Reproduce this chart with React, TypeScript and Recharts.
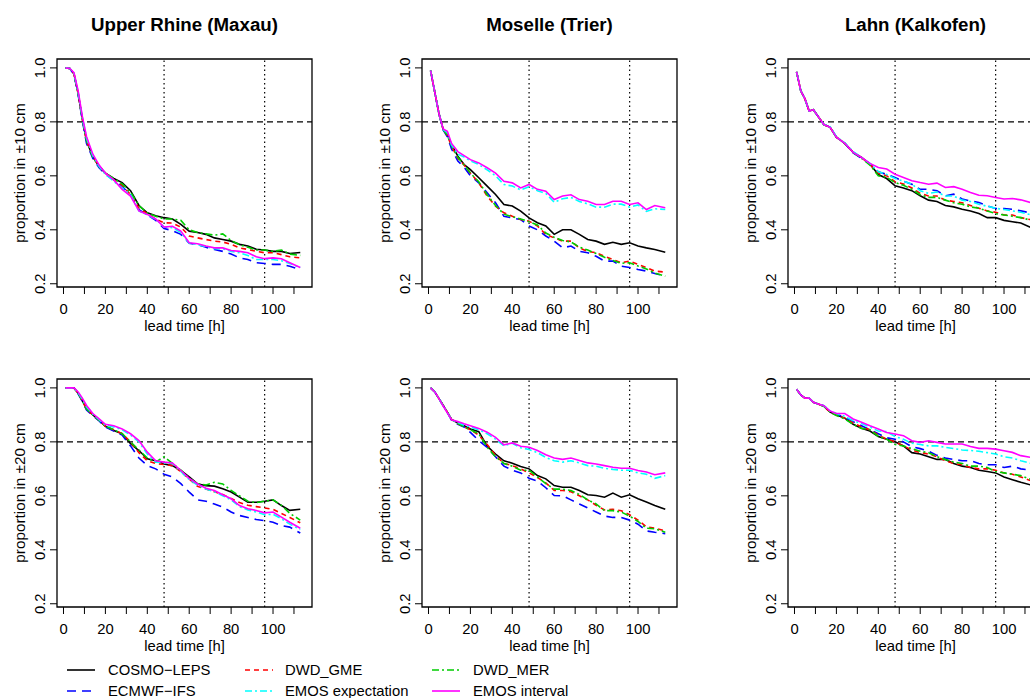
import { LineChart, Line, XAxis, YAxis, ReferenceLine, ReferenceArea } from 'recharts';

const LEAD_TIMES = [1, 3, 5, 7, 9, 11, 14, 17, 20, 24, 28, 32, 36, 40, 44, 48, 52, 56, 60, 64, 68, 72, 76, 80, 84, 88, 92, 96, 100, 104, 108, 113];

// Upper Rhine (Maxau), +-10 cm
const rhine10Cosmo = [1.0, 0.998, 0.978, 0.905, 0.81, 0.73, 0.67, 0.635, 0.61, 0.59, 0.575, 0.545, 0.49, 0.463, 0.452, 0.445, 0.44, 0.42, 0.395, 0.39, 0.383, 0.37, 0.364, 0.358, 0.346, 0.34, 0.328, 0.325, 0.32, 0.32, 0.312, 0.316];
const rhine10Ecmwf = [1.0, 0.998, 0.975, 0.9, 0.805, 0.72, 0.665, 0.63, 0.605, 0.585, 0.56, 0.53, 0.475, 0.455, 0.435, 0.405, 0.397, 0.383, 0.35, 0.345, 0.335, 0.327, 0.32, 0.31, 0.296, 0.29, 0.278, 0.275, 0.272, 0.272, 0.265, 0.253];
const rhine10Gme = [1.0, 0.998, 0.978, 0.905, 0.81, 0.73, 0.67, 0.635, 0.61, 0.585, 0.565, 0.53, 0.48, 0.46, 0.44, 0.426, 0.425, 0.41, 0.377, 0.37, 0.364, 0.358, 0.355, 0.346, 0.333, 0.327, 0.32, 0.315, 0.315, 0.308, 0.3, 0.296];
const rhine10Mer = [1.0, 0.998, 0.978, 0.905, 0.81, 0.73, 0.67, 0.635, 0.61, 0.59, 0.57, 0.54, 0.49, 0.462, 0.45, 0.44, 0.44, 0.435, 0.4, 0.39, 0.385, 0.38, 0.385, 0.36, 0.345, 0.335, 0.325, 0.325, 0.32, 0.325, 0.31, 0.305];
const rhine10EmosExp = [1.0, 0.998, 0.98, 0.91, 0.815, 0.74, 0.675, 0.635, 0.605, 0.58, 0.555, 0.53, 0.47, 0.455, 0.44, 0.41, 0.408, 0.39, 0.35, 0.345, 0.338, 0.33, 0.33, 0.32, 0.315, 0.305, 0.29, 0.29, 0.29, 0.285, 0.275, 0.26];
const rhine10EmosInt = [1.0, 0.998, 0.982, 0.915, 0.82, 0.745, 0.68, 0.64, 0.61, 0.585, 0.55, 0.525, 0.47, 0.457, 0.44, 0.41, 0.413, 0.395, 0.352, 0.348, 0.34, 0.333, 0.333, 0.323, 0.32, 0.315, 0.3, 0.293, 0.296, 0.293, 0.278, 0.26];

// Moselle (Trier), +-10 cm
const moselle10Cosmo = [0.99, 0.91, 0.83, 0.772, 0.752, 0.716, 0.673, 0.642, 0.623, 0.593, 0.562, 0.531, 0.494, 0.488, 0.469, 0.444, 0.426, 0.414, 0.383, 0.4, 0.4, 0.383, 0.364, 0.358, 0.346, 0.354, 0.346, 0.352, 0.34, 0.333, 0.327, 0.317];
const moselle10Ecmwf = [0.99, 0.91, 0.83, 0.77, 0.745, 0.7, 0.655, 0.632, 0.6, 0.574, 0.537, 0.5, 0.45, 0.444, 0.438, 0.414, 0.4, 0.377, 0.358, 0.333, 0.34, 0.32, 0.315, 0.302, 0.284, 0.284, 0.265, 0.26, 0.253, 0.247, 0.238, 0.228];
const moselle10Gme = [0.99, 0.91, 0.83, 0.772, 0.75, 0.71, 0.665, 0.64, 0.61, 0.574, 0.525, 0.488, 0.463, 0.45, 0.438, 0.432, 0.414, 0.383, 0.37, 0.358, 0.358, 0.333, 0.32, 0.315, 0.302, 0.29, 0.278, 0.284, 0.272, 0.26, 0.247, 0.243];
const moselle10Mer = [0.99, 0.91, 0.83, 0.772, 0.75, 0.712, 0.668, 0.64, 0.61, 0.578, 0.53, 0.49, 0.458, 0.448, 0.44, 0.43, 0.418, 0.388, 0.372, 0.36, 0.355, 0.336, 0.325, 0.312, 0.298, 0.286, 0.276, 0.278, 0.266, 0.255, 0.24, 0.228];
const moselle10EmosExp = [0.99, 0.91, 0.83, 0.772, 0.76, 0.715, 0.68, 0.67, 0.655, 0.642, 0.622, 0.6, 0.568, 0.562, 0.548, 0.56, 0.545, 0.535, 0.502, 0.515, 0.52, 0.505, 0.496, 0.484, 0.484, 0.495, 0.495, 0.484, 0.492, 0.468, 0.478, 0.475];
const moselle10EmosInt = [0.99, 0.91, 0.83, 0.774, 0.765, 0.72, 0.69, 0.675, 0.66, 0.648, 0.63, 0.61, 0.58, 0.574, 0.555, 0.568, 0.55, 0.543, 0.512, 0.525, 0.53, 0.512, 0.506, 0.494, 0.494, 0.506, 0.506, 0.494, 0.5, 0.475, 0.49, 0.482];

// Lahn (Kalkofen), +-10 cm
const lahn10Cosmo = [0.985, 0.915, 0.885, 0.84, 0.845, 0.823, 0.79, 0.78, 0.743, 0.72, 0.687, 0.668, 0.644, 0.605, 0.59, 0.563, 0.555, 0.545, 0.526, 0.51, 0.505, 0.49, 0.485, 0.476, 0.47, 0.46, 0.445, 0.445, 0.435, 0.43, 0.425, 0.408];
const lahn10Ecmwf = [0.985, 0.915, 0.885, 0.84, 0.845, 0.823, 0.79, 0.78, 0.743, 0.72, 0.685, 0.665, 0.645, 0.615, 0.605, 0.594, 0.58, 0.569, 0.55, 0.55, 0.545, 0.526, 0.532, 0.514, 0.507, 0.501, 0.489, 0.479, 0.479, 0.476, 0.47, 0.462];
const lahn10Gme = [0.985, 0.915, 0.885, 0.84, 0.845, 0.823, 0.79, 0.78, 0.743, 0.72, 0.687, 0.668, 0.642, 0.61, 0.6, 0.578, 0.57, 0.555, 0.535, 0.525, 0.525, 0.51, 0.505, 0.5, 0.49, 0.48, 0.47, 0.465, 0.455, 0.455, 0.445, 0.437];
const lahn10Mer = [0.985, 0.915, 0.885, 0.84, 0.845, 0.823, 0.79, 0.78, 0.743, 0.72, 0.687, 0.665, 0.64, 0.6, 0.595, 0.575, 0.565, 0.55, 0.53, 0.52, 0.52, 0.51, 0.5, 0.495, 0.485, 0.48, 0.47, 0.46, 0.455, 0.45, 0.445, 0.435];
const lahn10EmosExp = [0.985, 0.915, 0.885, 0.84, 0.845, 0.823, 0.79, 0.782, 0.745, 0.722, 0.69, 0.668, 0.646, 0.615, 0.605, 0.59, 0.58, 0.57, 0.545, 0.535, 0.54, 0.525, 0.525, 0.51, 0.505, 0.495, 0.487, 0.48, 0.475, 0.47, 0.465, 0.455];
const lahn10EmosInt = [0.985, 0.915, 0.885, 0.84, 0.845, 0.823, 0.79, 0.78, 0.743, 0.72, 0.687, 0.668, 0.646, 0.631, 0.625, 0.606, 0.594, 0.582, 0.575, 0.569, 0.573, 0.557, 0.56, 0.55, 0.538, 0.528, 0.526, 0.52, 0.514, 0.516, 0.511, 0.5];

// Upper Rhine (Maxau), +-20 cm
const rhine20Cosmo = [1.0, 1.0, 1.0, 0.98, 0.953, 0.922, 0.9, 0.88, 0.858, 0.842, 0.83, 0.793, 0.768, 0.737, 0.73, 0.718, 0.712, 0.694, 0.67, 0.644, 0.638, 0.636, 0.626, 0.614, 0.595, 0.576, 0.576, 0.58, 0.585, 0.564, 0.546, 0.55];
const rhine20Ecmwf = [1.0, 1.0, 1.0, 0.978, 0.95, 0.918, 0.897, 0.878, 0.855, 0.84, 0.825, 0.785, 0.74, 0.712, 0.7, 0.68, 0.67, 0.645, 0.614, 0.585, 0.58, 0.57, 0.558, 0.54, 0.527, 0.52, 0.512, 0.508, 0.502, 0.49, 0.484, 0.462];
const rhine20Gme = [1.0, 1.0, 1.0, 0.98, 0.953, 0.922, 0.9, 0.88, 0.858, 0.845, 0.83, 0.8, 0.76, 0.73, 0.72, 0.716, 0.712, 0.69, 0.662, 0.635, 0.625, 0.615, 0.605, 0.59, 0.575, 0.565, 0.56, 0.555, 0.55, 0.535, 0.52, 0.5];
const rhine20Mer = [1.0, 1.0, 1.0, 0.98, 0.953, 0.922, 0.9, 0.88, 0.858, 0.845, 0.83, 0.8, 0.77, 0.74, 0.725, 0.745, 0.72, 0.695, 0.665, 0.645, 0.64, 0.65, 0.644, 0.62, 0.6, 0.58, 0.575, 0.58, 0.585, 0.565, 0.535, 0.51];
const rhine20EmosExp = [1.0, 1.0, 1.0, 0.982, 0.958, 0.93, 0.903, 0.882, 0.862, 0.855, 0.845, 0.825, 0.8, 0.755, 0.725, 0.722, 0.72, 0.69, 0.66, 0.64, 0.625, 0.615, 0.6, 0.585, 0.56, 0.548, 0.54, 0.53, 0.532, 0.515, 0.495, 0.475];
const rhine20EmosInt = [1.0, 1.0, 1.0, 0.985, 0.962, 0.935, 0.905, 0.885, 0.865, 0.86, 0.848, 0.83, 0.805, 0.762, 0.73, 0.725, 0.722, 0.694, 0.665, 0.644, 0.628, 0.62, 0.604, 0.589, 0.564, 0.552, 0.546, 0.537, 0.54, 0.521, 0.502, 0.48];

// Moselle (Trier), +-20 cm
const moselle20Cosmo = [1.0, 0.985, 0.96, 0.935, 0.91, 0.883, 0.87, 0.86, 0.848, 0.838, 0.784, 0.755, 0.73, 0.721, 0.709, 0.7, 0.675, 0.663, 0.638, 0.632, 0.632, 0.62, 0.604, 0.601, 0.595, 0.61, 0.595, 0.604, 0.589, 0.577, 0.564, 0.55];
const moselle20Ecmwf = [1.0, 0.985, 0.96, 0.935, 0.91, 0.88, 0.865, 0.855, 0.835, 0.805, 0.78, 0.745, 0.71, 0.695, 0.685, 0.665, 0.655, 0.63, 0.601, 0.6, 0.585, 0.57, 0.555, 0.54, 0.525, 0.52, 0.52, 0.51, 0.495, 0.47, 0.465, 0.46];
const moselle20Gme = [1.0, 0.985, 0.96, 0.935, 0.91, 0.883, 0.868, 0.855, 0.845, 0.825, 0.79, 0.75, 0.72, 0.712, 0.7, 0.685, 0.668, 0.648, 0.62, 0.62, 0.615, 0.6, 0.585, 0.565, 0.548, 0.55, 0.545, 0.53, 0.51, 0.485, 0.48, 0.47];
const moselle20Mer = [1.0, 0.985, 0.96, 0.935, 0.91, 0.883, 0.868, 0.855, 0.845, 0.83, 0.78, 0.745, 0.72, 0.71, 0.695, 0.695, 0.67, 0.645, 0.625, 0.625, 0.62, 0.605, 0.585, 0.57, 0.545, 0.545, 0.54, 0.525, 0.505, 0.48, 0.478, 0.465];
const moselle20EmosExp = [1.0, 0.985, 0.96, 0.933, 0.908, 0.882, 0.872, 0.862, 0.855, 0.845, 0.83, 0.81, 0.785, 0.795, 0.778, 0.772, 0.76, 0.742, 0.73, 0.725, 0.73, 0.722, 0.712, 0.71, 0.702, 0.698, 0.695, 0.695, 0.685, 0.68, 0.665, 0.675];
const moselle20EmosInt = [1.0, 0.985, 0.96, 0.933, 0.908, 0.882, 0.875, 0.867, 0.86, 0.85, 0.836, 0.817, 0.789, 0.796, 0.784, 0.78, 0.768, 0.752, 0.74, 0.735, 0.74, 0.731, 0.722, 0.718, 0.712, 0.706, 0.702, 0.702, 0.694, 0.688, 0.678, 0.685];

// Lahn (Kalkofen), +-20 cm
const lahn20Cosmo = [0.995, 0.974, 0.962, 0.962, 0.947, 0.941, 0.932, 0.91, 0.9, 0.888, 0.865, 0.85, 0.84, 0.82, 0.81, 0.8, 0.785, 0.76, 0.755, 0.745, 0.735, 0.735, 0.72, 0.71, 0.705, 0.695, 0.69, 0.685, 0.67, 0.66, 0.65, 0.64];
const lahn20Ecmwf = [0.995, 0.974, 0.962, 0.962, 0.947, 0.941, 0.934, 0.912, 0.903, 0.891, 0.875, 0.86, 0.845, 0.83, 0.815, 0.81, 0.8, 0.782, 0.775, 0.765, 0.75, 0.74, 0.735, 0.73, 0.73, 0.72, 0.715, 0.715, 0.705, 0.71, 0.7, 0.695];
const lahn20Gme = [0.995, 0.974, 0.962, 0.962, 0.947, 0.941, 0.932, 0.91, 0.9, 0.888, 0.87, 0.855, 0.845, 0.825, 0.81, 0.8, 0.785, 0.77, 0.76, 0.755, 0.745, 0.73, 0.72, 0.715, 0.705, 0.7, 0.7, 0.695, 0.685, 0.68, 0.67, 0.655];
const lahn20Mer = [0.995, 0.974, 0.962, 0.962, 0.947, 0.941, 0.932, 0.91, 0.898, 0.885, 0.865, 0.85, 0.845, 0.82, 0.81, 0.79, 0.785, 0.775, 0.765, 0.76, 0.745, 0.735, 0.725, 0.72, 0.71, 0.71, 0.705, 0.69, 0.685, 0.68, 0.675, 0.66];
const lahn20EmosExp = [0.995, 0.974, 0.962, 0.962, 0.947, 0.941, 0.934, 0.915, 0.905, 0.895, 0.878, 0.868, 0.855, 0.84, 0.838, 0.82, 0.81, 0.795, 0.79, 0.785, 0.785, 0.78, 0.775, 0.77, 0.768, 0.765, 0.76, 0.755, 0.745, 0.74, 0.73, 0.72];
const lahn20EmosInt = [0.995, 0.974, 0.962, 0.962, 0.947, 0.941, 0.934, 0.914, 0.905, 0.905, 0.885, 0.873, 0.86, 0.848, 0.835, 0.829, 0.823, 0.804, 0.798, 0.804, 0.798, 0.792, 0.792, 0.792, 0.783, 0.776, 0.776, 0.773, 0.767, 0.761, 0.749, 0.742];

const Y_TICKS = [0.2, 0.4, 0.6, 0.8, 1.0];
const X_TICKS = [0, 10, 20, 30, 40, 50, 60, 70, 80, 90, 100, 110];

const SERIES = [
  { key: 'cosmo', name: 'COSMO\u2212LEPS', color: '#000000', dash: undefined },
  { key: 'ecmwf', name: 'ECMWF\u2212IFS', color: '#0000FF', dash: '9 6' },
  { key: 'gme', name: 'DWD_GME', color: '#FF0000', dash: '5 4' },
  { key: 'mer', name: 'DWD_MER', color: '#00CD00', dash: '7 3 2 3' },
  { key: 'emosExp', name: 'EMOS expectation', color: '#00FFFF', dash: '7 3 2 3' },
  { key: 'emosInt', name: 'EMOS interval', color: '#FF00FF', dash: undefined },
];
// R legend fills column by column
const LEGEND_ORDER = ['cosmo', 'ecmwf', 'gme', 'emosExp', 'mer', 'emosInt'];

const PANELS = [
  { title: 'Upper Rhine (Maxau)', band: 10, row: 0, col: 0, v: { cosmo: rhine10Cosmo, ecmwf: rhine10Ecmwf, gme: rhine10Gme, mer: rhine10Mer, emosExp: rhine10EmosExp, emosInt: rhine10EmosInt } },
  { title: 'Moselle (Trier)', band: 10, row: 0, col: 1, v: { cosmo: moselle10Cosmo, ecmwf: moselle10Ecmwf, gme: moselle10Gme, mer: moselle10Mer, emosExp: moselle10EmosExp, emosInt: moselle10EmosInt } },
  { title: 'Lahn (Kalkofen)', band: 10, row: 0, col: 2, v: { cosmo: lahn10Cosmo, ecmwf: lahn10Ecmwf, gme: lahn10Gme, mer: lahn10Mer, emosExp: lahn10EmosExp, emosInt: lahn10EmosInt } },
  { title: '', band: 20, row: 1, col: 0, v: { cosmo: rhine20Cosmo, ecmwf: rhine20Ecmwf, gme: rhine20Gme, mer: rhine20Mer, emosExp: rhine20EmosExp, emosInt: rhine20EmosInt } },
  { title: '', band: 20, row: 1, col: 1, v: { cosmo: moselle20Cosmo, ecmwf: moselle20Ecmwf, gme: moselle20Gme, mer: moselle20Mer, emosExp: moselle20EmosExp, emosInt: moselle20EmosInt } },
  { title: '', band: 20, row: 1, col: 2, v: { cosmo: lahn20Cosmo, ecmwf: lahn20Ecmwf, gme: lahn20Gme, mer: lahn20Mer, emosExp: lahn20EmosExp, emosInt: lahn20EmosInt } },
];

const FONT = '"Liberation Sans", Arial, Helvetica, sans-serif';
const FS = 14.8;
const X_DOMAIN: [number, number] = [-3.1, 118.6];
const Y_DOMAIN: [number, number] = [0.188, 1.033];
const Y_AXIS_W = 57;
const BOX_W = 255;
const BOX_TOP = 59;
const BOX_H = 228;
const X_AXIS_H = 50;
const CHART_W = Y_AXIS_W + BOX_W + 10;
const CHART_H = BOX_TOP + BOX_H + X_AXIS_H;
const COL_LEFT = [0, 365, 731];
const ROW_TOP = [0, 320];

const YTick = (props: any) => {
  const { x, y, payload } = props;
  return (
    <text x={x} y={y} transform={`rotate(-90 ${x} ${y})`} textAnchor="middle" fontSize={FS} fill="#000" fontFamily={FONT}>
      {Number(payload.value).toFixed(1)}
    </text>
  );
};

function Panel({ panel }: { panel: any }) {
  const data = LEAD_TIMES.map((t, i) => {
    const row: any = { t };
    SERIES.forEach((s) => { row[s.key] = panel.v[s.key][i]; });
    return row;
  });
  const yLabel = `proportion in \u00B1${panel.band} cm`;

  return (
    <div style={{ position: 'absolute', left: COL_LEFT[panel.col], top: ROW_TOP[panel.row], width: CHART_W, height: CHART_H }}>
      {panel.title && (
        <div style={{ position: 'absolute', left: Y_AXIS_W, width: BOX_W, top: 14, lineHeight: '22px', textAlign: 'center', fontWeight: 'bold', fontSize: 18.7, fontFamily: FONT }}>
          {panel.title}
        </div>
      )}
      <LineChart width={CHART_W} height={CHART_H} data={data} margin={{ top: BOX_TOP, right: 10, bottom: 0, left: 0 }}>
        <XAxis
          type="number"
          dataKey="t"
          domain={X_DOMAIN}
          allowDataOverflow
          ticks={X_TICKS}
          interval={0}
          height={X_AXIS_H}
          axisLine={false}
          tickSize={7}
          tickMargin={9}
          tickLine={{ stroke: '#000' }}
          tick={{ fill: '#000', fontSize: FS, fontFamily: FONT }}
          tickFormatter={(v: number) => (v % 20 === 0 ? String(v) : '')}
          label={(p: any) => (
            <text x={p.viewBox.x + p.viewBox.width / 2} y={p.viewBox.y + 39} textAnchor="middle" dominantBaseline="central" fontSize={FS} fill="#000" fontFamily={FONT}>
              lead time [h]
            </text>
          )}
        />
        <YAxis
          type="number"
          domain={Y_DOMAIN}
          allowDataOverflow
          ticks={Y_TICKS}
          interval={0}
          width={Y_AXIS_W}
          axisLine={false}
          tickSize={7}
          tickMargin={5}
          tickLine={{ stroke: '#000' }}
          tick={<YTick />}
          label={(p: any) => {
            const cx = p.viewBox.x + 19;
            const cy = p.viewBox.y + p.viewBox.height / 2;
            return (
              <text x={cx} y={cy} transform={`rotate(-90 ${cx} ${cy})`} textAnchor="middle" dominantBaseline="central" fontSize={15.3} fill="#000" fontFamily={FONT}>
                {yLabel}
              </text>
            );
          }}
        />
        <ReferenceLine y={0.8} stroke="#000" strokeDasharray="6 4" strokeWidth={1.2} />
        <ReferenceLine x={48} stroke="#000" strokeDasharray="1.5 3" strokeWidth={1.2} />
        <ReferenceLine x={96} stroke="#000" strokeDasharray="1.5 3" strokeWidth={1.2} />
        {SERIES.map((s) => (
          <Line
            key={s.key}
            type="linear"
            dataKey={s.key}
            name={s.name}
            stroke={s.color}
            strokeDasharray={s.dash}
            strokeWidth={1.6}
            dot={false}
            isAnimationActive={false}
          />
        ))}
        <ReferenceArea x1={X_DOMAIN[0]} x2={X_DOMAIN[1]} y1={Y_DOMAIN[0]} y2={Y_DOMAIN[1]} fill="none" fillOpacity={0} stroke="#000" strokeWidth={1.3} ifOverflow="visible" />
      </LineChart>
    </div>
  );
}

function BottomLegend() {
  const colLine = [67, 245, 432];
  const colText = [108, 285, 473];
  const rowY = [12, 33];
  return (
    <svg style={{ position: 'absolute', left: 0, top: 658 }} width={1030} height={40}>
      {LEGEND_ORDER.map((key, i) => {
        const s = SERIES.find((d) => d.key === key)!;
        const c = Math.floor(i / 2);
        const r = i % 2;
        return (
          <g key={key}>
            <line x1={colLine[c]} x2={colLine[c] + 28} y1={rowY[r]} y2={rowY[r]} stroke={s.color} strokeWidth={1.6} strokeDasharray={s.dash} />
            <text x={colText[c]} y={rowY[r]} dominantBaseline="central" fontSize={FS} fontFamily={FONT} fill="#000">
              {s.name}
            </text>
          </g>
        );
      })}
    </svg>
  );
}

export default function App() {
  return (
    <div style={{ position: 'absolute', left: 0, top: 0, width: 1030, height: 698, overflow: 'hidden', background: '#fff', fontFamily: FONT }}>
      {PANELS.map((p, i) => (
        <Panel key={i} panel={p} />
      ))}
      <BottomLegend />
    </div>
  );
}
